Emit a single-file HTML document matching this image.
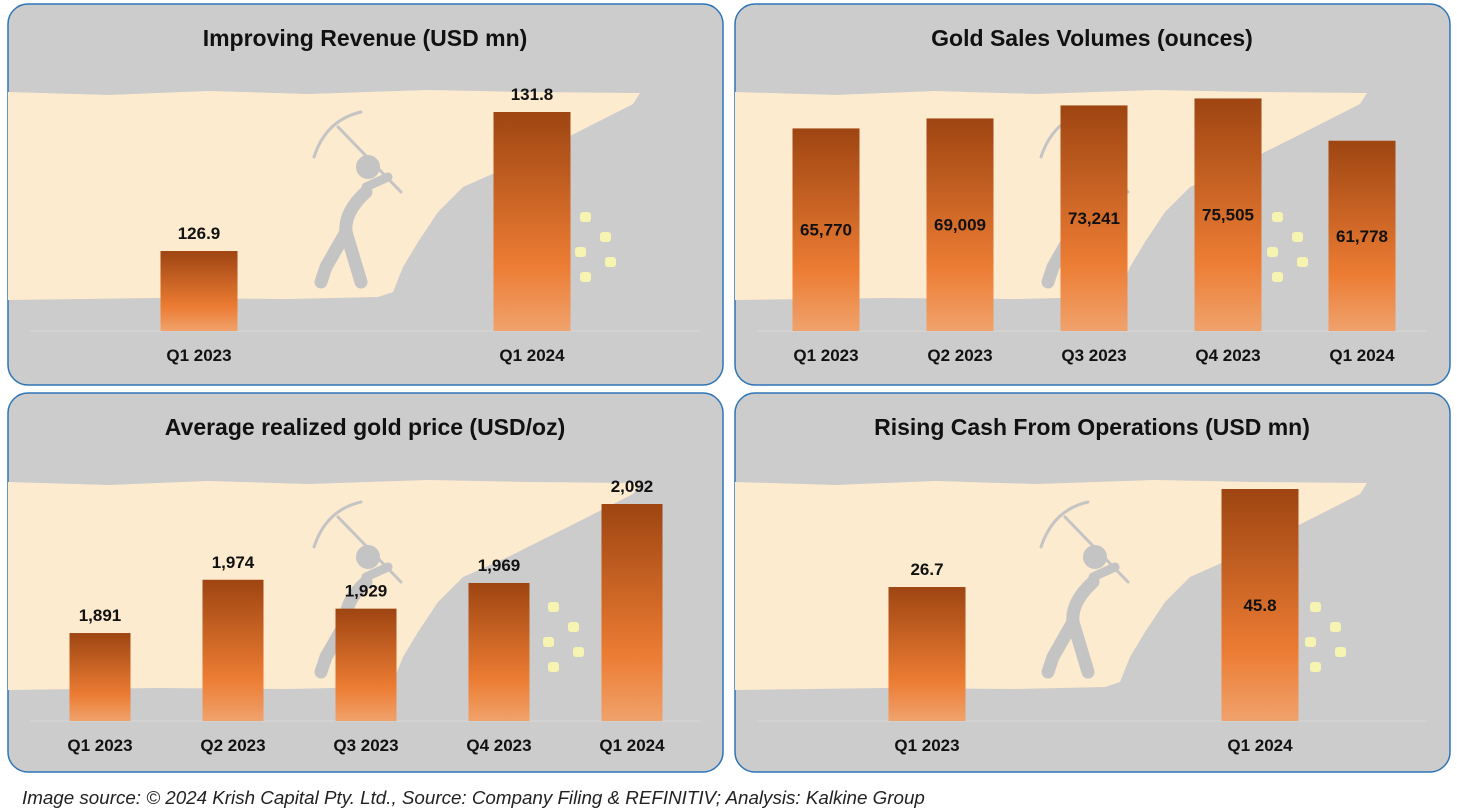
<!DOCTYPE html>
<html><head><meta charset="utf-8">
<style>
body{margin:0;background:#fff;width:1457px;height:808px;overflow:hidden;font-family:"Liberation Sans",sans-serif;}
#foot{position:absolute;left:22px;top:787px;font-style:italic;font-size:18.8px;color:#222;white-space:nowrap;}
</style></head><body>
<svg id="chart" width="1457" height="808" style="position:absolute;left:0;top:0">
<defs>
<linearGradient id="bg" x1="0" y1="0" x2="0" y2="1">
<stop offset="0" stop-color="#9e4512"/><stop offset="0.7" stop-color="#ec7c33"/><stop offset="1" stop-color="#f0a26c"/>
</linearGradient>
</defs>
</svg>
<div id="foot">Image source: © 2024 Krish Capital Pty. Ltd., Source: Company Filing &amp; REFINITIV; Analysis: Kalkine Group</div>
<script>
const revCats=["Q1 2023","Q1 2024"];
const revVals=[126.9,131.8];
const volCats=["Q1 2023","Q2 2023","Q3 2023","Q4 2023","Q1 2024"];
const volVals=[65770,69009,73241,75505,61778];
const volLabels=["65,770","69,009","73,241","75,505","61,778"];
const priceCats=["Q1 2023","Q2 2023","Q3 2023","Q4 2023","Q1 2024"];
const priceVals=[1891,1974,1929,1969,2092];
const priceLabels=["1,891","1,974","1,929","1,969","2,092"];
const cashCats=["Q1 2023","Q1 2024"];
const cashVals=[26.7,45.8];

const svg=document.getElementById('chart');
const NS="http://www.w3.org/2000/svg";
function mk(tag,attrs,parent){const e=document.createElementNS(NS,tag);for(const k in attrs)e.setAttribute(k,attrs[k]);(parent||svg).appendChild(e);return e;}

function panel(p){
  const g=mk('g',{});
  
  
  const ox=p.x,oy=p.y;
  const box=mk('rect',{x:ox,y:oy,width:715,height:p.h,rx:20,fill:'#cccccc',stroke:'#2e75b6','stroke-width':1.5},g);
  
  
  const by=p.bandY;
  const pts=[[0,0],[100,3],[200,-1],[300,2],[420,-2],[520,0],[632,1],[625,12],[560,45],[500,75],[455,95],[430,120],[410,150],[395,175],[385,200],[370,205],[280,207],[150,206],[0,208]];
  const band=mk('polygon',{points:pts.map(q=>(ox+q[0])+','+(by+q[1])).join(' '),fill:'#fdebd0'},g);
  
  
  const mx=ox+p.minerX,my=by;
  const mg=mk('g',{stroke:'#c4c4c4',fill:'none','stroke-linecap':'round','stroke-width':13},g);
  
  
  mk('path',{d:`M${mx+40} ${my+100} Q${mx+18} ${my+120} ${mx+20} ${my+140} L${mx+35} ${my+190}`},mg);
  mk('path',{d:`M${mx+20} ${my+140} L${mx} ${my+175} L${mx-5} ${my+190}`},mg);
  mk('path',{d:`M${mx+40} ${my+95} L${mx+62} ${my+85}`,'stroke-width':9},mg);
  mk('circle',{cx:mx+42,cy:my+75,r:11,fill:'#c4c4c4','stroke-width':2},mg);
  mk('path',{d:`M${mx+12} ${my+35} L${mx+75} ${my+100}`,'stroke-width':3},mg);
  mk('path',{d:`M${mx-12} ${my+65} Q${mx} ${my+28} ${mx+35} ${my+20}`,'stroke-width':3},mg);
  [[0,0],[20,20],[-5,35],[25,45],[0,60]].forEach(n=>{
    const c=mk('rect',{x:ox+p.nugX+n[0],y:by+120+n[1],width:11,height:10,rx:3,fill:'#f7f3b0'},g);
    
    
  });
  const t=mk('text',{x:ox+357,y:oy+42,'text-anchor':'middle','font-size':23,'font-weight':'bold',fill:'#111'},g);
  t.textContent=p.title;
  
  
  const base=p.base;
  const ax=mk('line',{x1:ox+22,x2:ox+692,y1:base,y2:base,stroke:'#d9d9d9','stroke-width':1},g);
  
  
  const yS=v=>base-(v-p.min)/(p.max-p.min)*(base-p.top);
  p.cats.forEach((c,i)=>{
    const cx=ox+p.c0+i*p.step;
    const y=yS(p.vals[i]);
    const b=mk('rect',{x:cx-p.bw/2,y:y,width:p.bw,height:base-y,fill:'url(#bg)'},g);
    
    
    const inside=p.inside(i);
    const lt=mk('text',{x:cx,y:inside?(y+base)/2+6:y-12,'text-anchor':'middle','font-size':17,'font-weight':'bold',fill:'#111'},g);
    lt.textContent=p.labels[i];
    
    
    const ct=mk('text',{x:cx,y:base+30,'text-anchor':'middle','font-size':17,'font-weight':'bold',fill:'#111'},g);
    ct.textContent=c;
    
    
  });
}
panel({name:'revenue-chart',x:8,y:4,h:381,bandY:92,minerX:318,nugX:572,title:'Improving Revenue (USD mn)',base:331,top:112,min:124.08,max:131.8,cats:revCats,vals:revVals,labels:revVals.map(v=>v.toFixed(1)),c0:191,step:333,bw:77,inside:i=>false});
panel({name:'sales-volume-chart',x:735,y:4,h:381,bandY:92,minerX:318,nugX:537,title:'Gold Sales Volumes (ounces)',base:331,top:96,min:0,max:76300,cats:volCats,vals:volVals,labels:volLabels,c0:91,step:134,bw:67,inside:i=>true});
panel({name:'gold-price-chart',x:8,y:393,h:379,bandY:482,minerX:318,nugX:540,title:'Average realized gold price (USD/oz)',base:721,top:504,min:1754,max:2092,cats:priceCats,vals:priceVals,labels:priceLabels,c0:92,step:133,bw:61,inside:i=>false});
panel({name:'cash-operations-chart',x:735,y:393,h:379,bandY:482,minerX:318,nugX:575,title:'Rising Cash From Operations (USD mn)',base:721,top:489,min:0.6,max:45.8,cats:cashCats,vals:cashVals,labels:cashVals.map(v=>v.toFixed(1)),c0:192,step:333,bw:77,inside:i=>i===1});
</script>
</body></html>
